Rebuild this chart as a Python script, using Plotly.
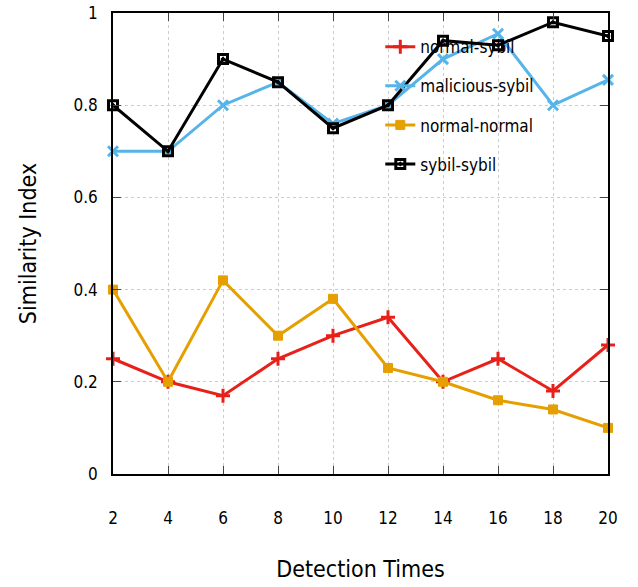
import plotly.graph_objects as go

detection_times = [2, 4, 6, 8, 10, 12, 14, 16, 18, 20]
normal_sybil = [0.25, 0.20, 0.17, 0.25, 0.30, 0.34, 0.20, 0.25, 0.18, 0.28]
malicious_sybil = [0.70, 0.70, 0.80, 0.85, 0.76, 0.80, 0.90, 0.955, 0.80, 0.855]
normal_normal = [0.40, 0.20, 0.42, 0.30, 0.38, 0.23, 0.20, 0.16, 0.14, 0.10]
sybil_sybil = [0.80, 0.70, 0.90, 0.85, 0.75, 0.80, 0.94, 0.93, 0.98, 0.95]

x_ticks = [2, 4, 6, 8, 10, 12, 14, 16, 18, 20]
y_ticks = [0, 0.2, 0.4, 0.6, 0.8, 1]
y_tick_labels = ["0", "0.2", "0.4", "0.6", "0.8", "1"]

FONT = "DejaVu Sans Condensed, DejaVu Sans, sans-serif"

series = [
    ("normal-sybil", normal_sybil, "#e8201a", dict(symbol="cross-thin", size=10, line=dict(width=3, color="#e8201a"))),
    ("malicious-sybil", malicious_sybil, "#56b4e9", dict(symbol="x-thin", size=10, line=dict(width=3, color="#56b4e9"))),
    ("normal-normal", normal_normal, "#e69f00", dict(symbol="square", size=9, color="#e69f00", line=dict(width=1, color="#e69f00"))),
    ("sybil-sybil", sybil_sybil, "#000000", dict(symbol="square-open-dot", size=9, color="#000000", line=dict(width=3, color="#000000"))),
]

fig = go.Figure()
for i, (name, vals, color, marker) in enumerate(series):
    fig.add_trace(go.Scatter(
        x=detection_times, y=vals, name=name, mode="lines+markers",
        line=dict(color=color, width=3), marker=marker, cliponaxis=False,
        legendgroup=f"g{i}",
    ))

fig.update_layout(
    width=638, height=587,
    margin=dict(l=113, r=30, t=13, b=113, autoexpand=False),
    plot_bgcolor="white", paper_bgcolor="white",
    font=dict(family=FONT, size=17, color="#000"),
    legend=dict(x=0.54, y=0.965, xanchor="left", yanchor="top",
                bgcolor="rgba(0,0,0,0)", font=dict(size=17, family=FONT),
                tracegroupgap=14),
    xaxis=dict(
        range=[2, 20], tickvals=x_ticks, ticks="inside", ticklen=8,
        tickcolor="#444", showline=True, linecolor="#000", linewidth=1.5,
        mirror="ticks", showgrid=True, gridcolor="#cccccc", griddash="dot",
        gridwidth=1, zeroline=False, ticklabelstandoff=28, automargin=False,
        title=dict(text="Detection Times", font=dict(size=23, family=FONT), standoff=34),
    ),
    yaxis=dict(
        range=[0, 1], tickvals=y_ticks, ticktext=y_tick_labels, ticks="inside", ticklen=8,
        tickcolor="#444", showline=True, linecolor="#000", linewidth=1.5,
        mirror="ticks", showgrid=True, gridcolor="#cccccc", griddash="dot",
        gridwidth=1, zeroline=False, ticklabelstandoff=10, automargin=False,
        title=dict(text="Similarity Index", font=dict(size=23, family=FONT), standoff=30),
    ),
)

fig.write_html("out.html", config={"displayModeBar": False},
               post_script="document.body.style.margin='0';")
